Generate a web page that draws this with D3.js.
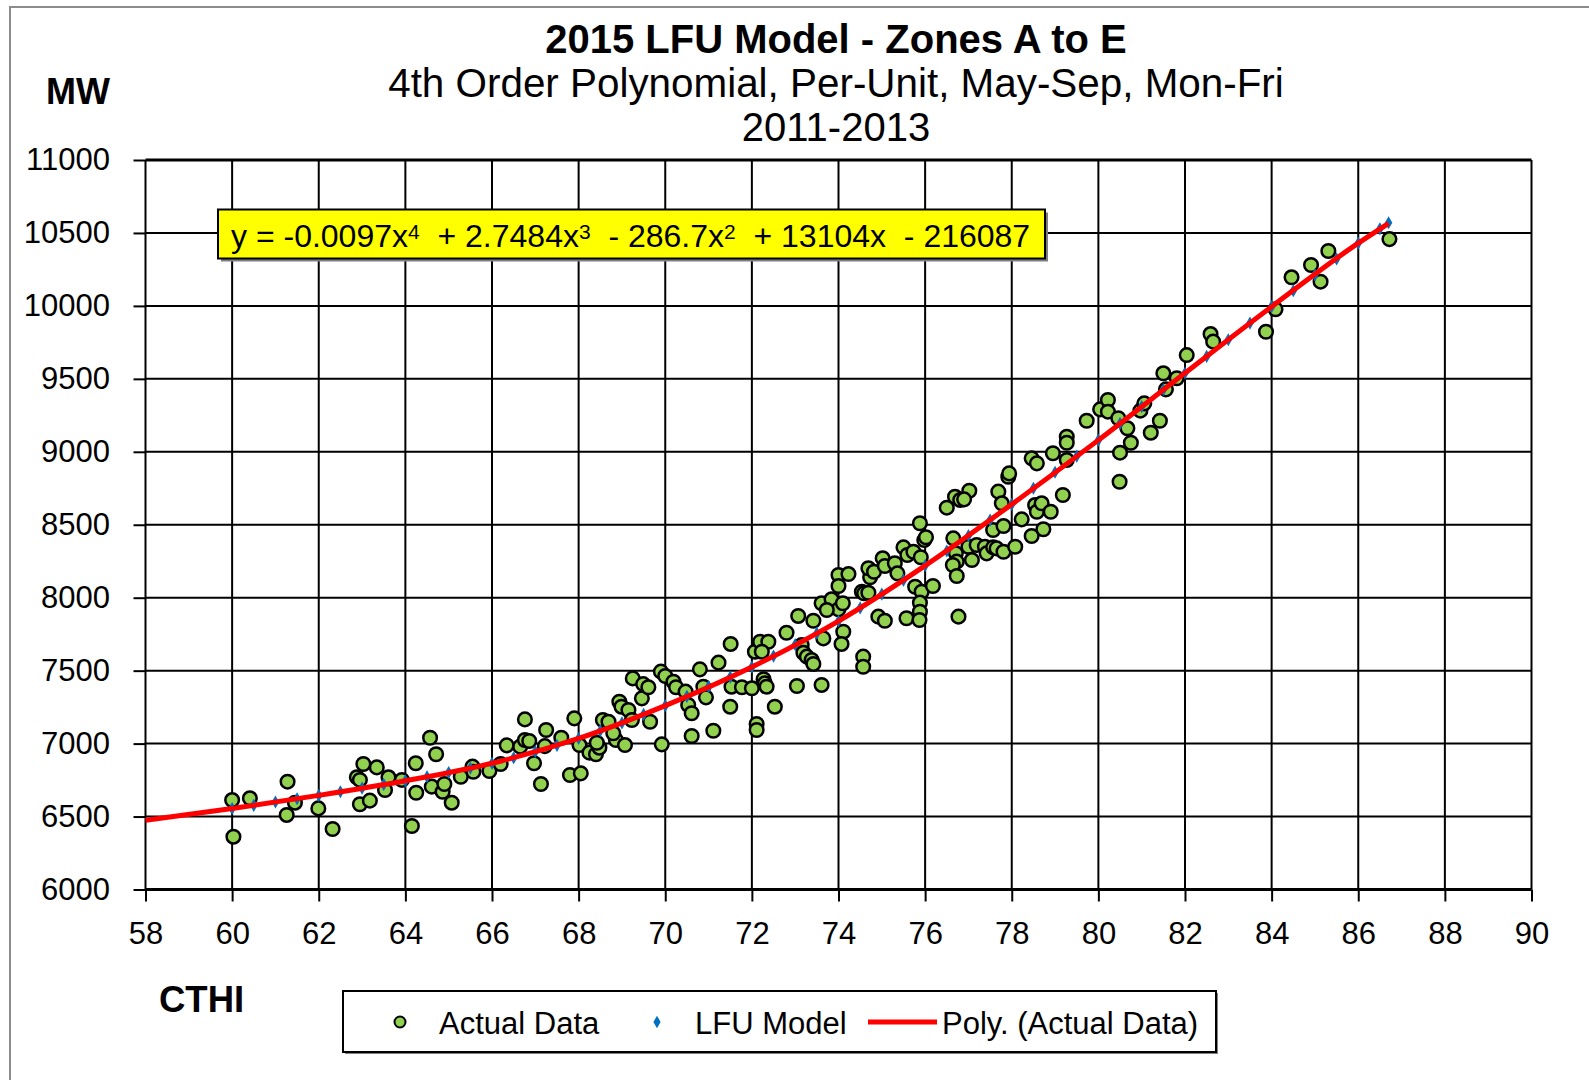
<!DOCTYPE html>
<html>
<head>
<meta charset="utf-8">
<script src="https://cdn.jsdelivr.net/npm/d3@7"></script>
<style>
	body { margin: 0; background: #fff; }
	svg text { font-family: "Liberation Sans", Arial, sans-serif; fill: #000; }
</style>
</head>
<body>
<script>
// Actual Data (CTHI, MW)
const actualX = [60.0, 60.03, 60.41, 61.28, 61.26, 61.45, 61.99, 62.32, 62.88, 62.95,
	63.03, 62.95, 63.18, 63.34, 63.61, 63.53, 63.92, 64.15, 64.24, 64.25,
	64.57, 64.71, 64.61, 64.86, 64.9, 65.07, 65.28, 65.55, 65.57, 65.94,
	66.2, 66.34, 66.65, 66.76, 66.76, 66.86, 66.97, 67.13, 67.25, 67.22,
	67.6, 67.8, 68.05, 67.9, 68.02, 68.25, 68.4, 68.48, 68.42, 68.56,
	68.69, 68.86, 69.07, 68.8, 68.94, 68.99, 69.15, 69.23, 69.46, 69.25,
	69.49, 69.61, 69.65, 69.92, 69.9, 70.0, 70.19, 70.25, 70.47, 70.53,
	70.61, 70.61, 70.8, 70.88, 70.94, 71.11, 71.23, 71.51, 71.53, 71.5,
	71.77, 72.0, 72.07, 72.11, 72.11, 72.19, 72.38, 72.23, 72.27, 72.3,
	72.34, 72.53, 72.8, 73.04, 73.07, 73.42, 73.15, 73.19, 73.27, 73.38,
	73.42, 73.61, 73.65, 73.61, 73.84, 74.0, 74.23, 74.0, 74.0, 74.1,
	74.11, 74.07, 73.73, 74.57, 74.57, 74.54, 74.59, 74.69, 74.73, 74.69,
	74.82, 74.92, 75.07, 75.02, 75.07, 75.3, 75.36, 75.5, 75.59, 75.73,
	75.57, 75.88, 75.98, 76.02, 75.9, 75.77, 75.92, 75.88, 75.88, 75.87,
	76.18, 76.77, 76.5, 76.69, 76.81, 77.02, 76.9, 76.65, 76.71, 76.73,
	76.64, 76.73, 77.0, 77.08, 77.19, 77.38, 77.42, 77.57, 77.65, 77.81,
	77.69, 77.77, 77.92, 77.94, 77.57, 77.81, 78.08, 78.23, 78.46, 78.58,
	78.54, 78.58, 78.46, 78.69, 78.73, 78.9, 79.18, 78.95, 79.27, 79.27,
	79.27, 79.73, 80.04, 80.22, 80.22, 80.46, 80.67, 80.75, 80.5, 80.49,
	80.97, 81.06, 81.21, 81.42, 81.5, 81.56, 81.81, 82.04, 82.59, 82.65,
	83.87, 84.09, 84.46, 84.91, 85.13, 85.31, 86.72];
const actualY = [6613, 6362, 6625, 6739, 6511, 6595, 6556, 6415, 6769, 6751,
	6860, 6584, 6609, 6837, 6769, 6682, 6751, 6435, 6865, 6663,
	7040, 6927, 6705, 6670, 6723, 6595, 6773, 6842, 6807, 6812,
	6860, 6988, 6979, 7166, 7025, 7018, 6865, 6723, 7093, 6983,
	7040, 6785, 6796, 7173, 6990, 6938, 6927, 6972, 7006, 7162,
	7150, 7025, 6990, 7071, 7287, 7253, 7230, 7162, 7310, 7447,
	7408, 7386, 7150, 6995, 7493, 7463, 7424, 7386, 7356, 7265,
	7208, 7052, 7509, 7390, 7317, 7088, 7555, 7683, 7390, 7253,
	7386, 7379, 7630, 7134, 7093, 7698, 7698, 7630, 7441, 7413,
	7390, 7253, 7760, 7395, 7875, 7842, 7676, 7623, 7596, 7573,
	7546, 7402, 7721, 7962, 7989, 8156, 8162, 8080, 7920, 7962,
	7767, 7683, 7916, 7596, 7527, 8041, 8030, 8034, 8140, 8202,
	8178, 7870, 7842, 8270, 8217, 8236, 8167, 8345, 8293, 8315,
	7859, 8510, 8395, 8414, 8277, 8075, 8041, 7966, 7904, 7847,
	8080, 7870, 8617, 8692, 8670, 8733, 8674, 8407, 8304, 8247,
	8224, 8149, 8349, 8258, 8361, 8349, 8304, 8345, 8338, 8315,
	8727, 8647, 8829, 8852, 8464, 8491, 8349, 8537, 8955, 8921,
	8635, 8589, 8423, 8647, 8469, 8589, 8704, 8990, 9103, 9062,
	8944, 9213, 9291, 9355, 9275, 9230, 9161, 9062, 8994, 8795,
	9282, 9332, 9131, 9213, 9538, 9428, 9504, 9663, 9807, 9755,
	9823, 9977, 10196, 10280, 10166, 10376, 10458];

// LFU Model points (blue diamonds, along the curve)
const lfuX = [60, 60.5, 61, 61.5, 62, 62.5, 63, 63.5, 64, 64.5, 65, 65.5, 66, 66.5,
	67, 67.5, 68, 68.5, 69, 69.5, 70, 70.5, 71, 71.5, 72, 72.5, 73, 73.5,
	74, 74.5, 75, 75.5, 76, 76.5, 77, 77.5, 78, 78.5, 79, 79.5, 80, 80.5,
	81, 81.5, 82, 82.5, 83, 83.5, 84, 84.5, 85, 85.5, 86, 86.5, 86.7];
const lfuY = [6555, 6577, 6600, 6622, 6645, 6670, 6695, 6720, 6745, 6773, 6802, 6832, 6865, 6903,
	6945, 6988, 7035, 7088, 7142, 7200, 7260, 7324, 7390, 7456, 7525, 7600, 7678, 7757,
	7840, 7930, 8025, 8120, 8220, 8320, 8425, 8532, 8640, 8750, 8860, 8970, 9080, 9195,
	9310, 9425, 9540, 9654, 9768, 9882, 9995, 10104, 10213, 10322, 10430, 10528, 10570];

// Poly. (Actual Data) trendline, read at grid columns
const polyX = [58, 60, 62, 64, 66, 68, 70, 72, 74, 76, 78, 80, 82, 84, 86, 86.7];
const polyY = [6475, 6555, 6645, 6745, 6865, 7035, 7260, 7525, 7840, 8220, 8640, 9080, 9540, 9995, 10430, 10566];

const xTicks = [58, 60, 62, 64, 66, 68, 70, 72, 74, 76, 78, 80, 82, 84, 86, 88, 90];
const yTicks = [6000, 6500, 7000, 7500, 8000, 8500, 9000, 9500, 10000, 10500, 11000];

const titleText = "2015 LFU Model - Zones A to E";
const subtitleText = "4th Order Polynomial, Per-Unit, May-Sep, Mon-Fri";
const yearsText = "2011-2013";
const legendLabels = ["Actual Data", "LFU Model", "Poly. (Actual Data)"];
// trendline label: [text, exponent]
const eqTerms = [
	["y = -0.0097x", "4"],
	["  + 2.7484x", "3"],
	["  - 286.7x", "2"],
	["  + 13104x  - 216087", ""]
];

// Dimensions
const dimensions = {
	width: 1589,
	height: 1080,
	plot: { left: 145.5, right: 1531.5, top: 160, bottom: 889.5 }
};

const svg = d3.select("body")
	.append("svg")
	.attr("width", dimensions.width)
	.attr("height", dimensions.height);

// outer chart frame (only top/left show)
svg.append("rect")
	.attr("x", 10)
	.attr("y", 7)
	.attr("width", dimensions.width + 20)
	.attr("height", dimensions.height + 20)
	.attr("fill", "#fff")
	.attr("stroke", "#8c8c8c")
	.attr("stroke-width", 2);

const xScale = d3.scaleLinear()
	.domain([58, 90])
	.range([dimensions.plot.left, dimensions.plot.right]);
const yScale = d3.scaleLinear()
	.domain([6000, 11000])
	.range([dimensions.plot.bottom, dimensions.plot.top]);

// Titles
svg.append("text")
	.attr("x", 836).attr("y", 53)
	.attr("text-anchor", "middle")
	.style("font-size", "40px")
	.style("font-weight", "bold")
	.text(titleText);
svg.append("text")
	.attr("x", 836).attr("y", 97)
	.attr("text-anchor", "middle")
	.style("font-size", "40.4px")
	.text(subtitleText);
svg.append("text")
	.attr("x", 836).attr("y", 141)
	.attr("text-anchor", "middle")
	.style("font-size", "40px")
	.text(yearsText);

svg.append("text")
	.attr("x", 46).attr("y", 104)
	.style("font-size", "36px")
	.style("font-weight", "bold")
	.text("MW");
svg.append("text")
	.attr("x", 159).attr("y", 1012)
	.style("font-size", "36.5px")
	.style("font-weight", "bold")
	.text("CTHI");

// Grid
const grid = svg.append("g");
grid.selectAll(".vgrid")
	.data(xTicks)
	.join("line")
	.attr("class", "vgrid")
	.attr("x1", d => xScale(d)).attr("x2", d => xScale(d))
	.attr("y1", yScale(11000)).attr("y2", yScale(6000))
	.attr("stroke", "#000")
	.attr("stroke-width", 2);
grid.selectAll(".hgrid")
	.data(yTicks)
	.join("line")
	.attr("class", "hgrid")
	.attr("x1", xScale(58)).attr("x2", xScale(90))
	.attr("y1", d => yScale(d)).attr("y2", d => yScale(d))
	.attr("stroke", "#000")
	.attr("stroke-width", d => (d === 6000 || d === 11000) ? 3 : 2);

// Axes
const yAxis = svg.append("g")
	.attr("transform", `translate(${dimensions.plot.left},0)`)
	.call(d3.axisLeft(yScale).tickValues(yTicks).tickSize(12).tickSizeOuter(0).tickPadding(23.5).tickFormat(d3.format("d")));
const xAxis = svg.append("g")
	.attr("transform", `translate(0,${dimensions.plot.bottom})`)
	.call(d3.axisBottom(xScale).tickValues(xTicks).tickSize(12).tickSizeOuter(0).tickPadding(20).tickFormat(d3.format("d")));

[yAxis, xAxis].forEach(ax => {
	ax.select(".domain").remove();
	ax.selectAll(".tick line").attr("stroke", "#000").attr("stroke-width", 2);
	ax.selectAll(".tick text")
		.attr("fill", "#000")
		.style("font-family", "'Liberation Sans', Arial, sans-serif")
		.style("font-size", "31px");
});

// Equation box
const eq = svg.append("g");
eq.append("rect")
	.attr("x", 221).attr("y", 212.5)
	.attr("width", 827).attr("height", 49)
	.attr("fill", "#7f7f7f");
eq.append("rect")
	.attr("x", 218).attr("y", 209.5)
	.attr("width", 827).attr("height", 49)
	.attr("fill", "#ffff00")
	.attr("stroke", "#000")
	.attr("stroke-width", 2);
const eqText = eq.append("text")
	.attr("x", 231)
	.attr("y", 246.5)
	.style("font-size", "32px")
	.style("white-space", "pre");
eqTerms.forEach(([body, exp]) => {
	eqText.append("tspan").attr("y", 246.5).text(body);
	if (exp) {
		eqText.append("tspan")
			.attr("y", 238.5)
			.style("font-size", "21px")
			.text(exp);
	}
});

// Marks
const actual = actualX.map((d, i) => ({ x: d, y: actualY[i] }));
const lfu = lfuX.map((d, i) => ({ x: d, y: lfuY[i] }));
const poly = polyX.map((d, i) => ({ x: d, y: polyY[i] }));

const green = "#92d050";
const blue = "#0070c0";
const red = "#ff0000";

svg.append("g")
	.selectAll("circle")
	.data(actual)
	.join("circle")
	.attr("cx", d => xScale(d.x))
	.attr("cy", d => yScale(d.y))
	.attr("r", 6.8)
	.attr("fill", green)
	.attr("stroke", "#000")
	.attr("stroke-width", 2.5);

const diamond = d3.symbol().type(d3.symbolDiamond).size(50);
svg.append("g")
	.selectAll("path")
	.data(lfu)
	.join("path")
	.attr("d", diamond)
	.attr("transform", d => `translate(${xScale(d.x)},${yScale(d.y)})`)
	.attr("fill", blue);

const polyLine = d3.line()
	.x(d => xScale(d.x))
	.y(d => yScale(d.y))
	.curve(d3.curveMonotoneX);
svg.append("path")
	.datum(poly)
	.attr("d", polyLine)
	.attr("fill", "none")
	.attr("stroke", red)
	.attr("stroke-width", 5);

// Legend
const legend = svg.append("g");
legend.append("rect")
	.attr("x", 345).attr("y", 993)
	.attr("width", 873).attr("height", 61)
	.attr("fill", "#7f7f7f");
legend.append("rect")
	.attr("x", 343).attr("y", 991)
	.attr("width", 873).attr("height", 61)
	.attr("fill", "#fff")
	.attr("stroke", "#000")
	.attr("stroke-width", 2);

legend.append("circle")
	.attr("cx", 400).attr("cy", 1022)
	.attr("r", 5.5)
	.attr("fill", green)
	.attr("stroke", "#000")
	.attr("stroke-width", 2);
legend.append("path")
	.attr("d", d3.symbol().type(d3.symbolDiamond).size(45))
	.attr("transform", "translate(657,1022)")
	.attr("fill", blue);
legend.append("line")
	.attr("x1", 868).attr("x2", 937)
	.attr("y1", 1022).attr("y2", 1022)
	.attr("stroke", red)
	.attr("stroke-width", 5);

const legendX = [439, 695, 942];
legend.selectAll(".legend-label")
	.data(legendLabels)
	.join("text")
	.attr("class", "legend-label")
	.attr("x", (d, i) => legendX[i])
	.attr("y", 1034)
	.style("font-size", "31px")
	.text(d => d);
</script>
</body>
</html>
